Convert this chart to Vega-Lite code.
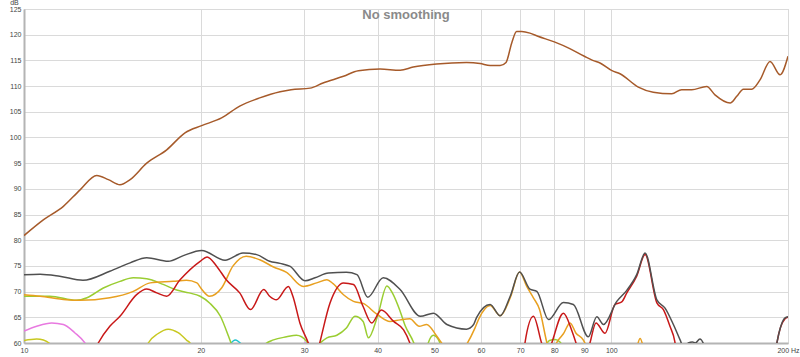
{
  "$schema": "https://vega.github.io/schema/vega-lite/v6.json",
  "width": 764,
  "height": 334,
  "autosize": {"type": "none"},
  "padding": {"left": 24, "top": 9, "right": 12, "bottom": 14},
  "background": "white",
  "config": {
    "font": "Liberation Sans",
    "view": {"stroke": "#c8c8c8", "strokeWidth": 1},
    "axis": {"gridColor": "#dadada", "gridWidth": 1, "domainColor": "#b4b4b4", "domainWidth": 2, "ticks": false, "labelFontSize": 7, "labelColor": "#444", "labelFont": "Liberation Sans"}
  },
  "title": {"text": "No smoothing", "anchor": "middle", "offset": -24, "fontSize": 13, "fontWeight": "bold", "color": "#8a8a8a", "font": "Liberation Sans"},
  "data": {"values": [
    {"s":"pink","g":"p1","f":10,"d":62.3},{"s":"pink","g":"p1","f":10.51,"d":63.25},{"s":"pink","g":"p1","f":11.15,"d":63.9},{"s":"pink","g":"p1","f":11.67,"d":63.6},{"s":"pink","g":"p1","f":12.2,"d":62.0},{"s":"pink","g":"p1","f":12.7,"d":60},{"s":"pink","g":"p1","f":13.0,"d":58},
    {"s":"yellow","g":"y1","f":10,"d":60.5},{"s":"yellow","g":"y1","f":10.51,"d":60.8},{"s":"yellow","g":"y1","f":10.79,"d":60.6},{"s":"yellow","g":"y1","f":11.15,"d":59.5},{"s":"yellow","g":"y1","f":11.4,"d":58},
    {"s":"yellow","g":"y2","f":16.0,"d":58},{"s":"yellow","g":"y2","f":16.28,"d":60},{"s":"yellow","g":"y2","f":16.9,"d":61.8},{"s":"yellow","g":"y2","f":17.6,"d":62.7},{"s":"yellow","g":"y2","f":18.3,"d":62.0},{"s":"yellow","g":"y2","f":18.9,"d":60.6},{"s":"yellow","g":"y2","f":19.3,"d":59.5},{"s":"yellow","g":"y2","f":19.5,"d":58},
    {"s":"cyan","g":"c1","f":22.3,"d":59.4},{"s":"cyan","g":"c1","f":22.9,"d":60.6},{"s":"cyan","g":"c1","f":23.6,"d":59.4},
    {"s":"lavender","g":"l1","f":29.8,"d":59.6},{"s":"lavender","g":"l1","f":30.3,"d":60.2},{"s":"lavender","g":"l1","f":30.8,"d":59.6},
    {"s":"green","g":"g1","f":10,"d":69.1},{"s":"green","g":"g1","f":11.07,"d":69.1},{"s":"green","g":"g1","f":12.29,"d":68.3},{"s":"green","g":"g1","f":12.8,"d":68.8},{"s":"green","g":"g1","f":13.65,"d":70.7},{"s":"green","g":"g1","f":14.57,"d":72.0},{"s":"green","g":"g1","f":15.35,"d":72.7},{"s":"green","g":"g1","f":16.18,"d":72.5},{"s":"green","g":"g1","f":17.26,"d":71.4},{"s":"green","g":"g1","f":18.2,"d":70.3},{"s":"green","g":"g1","f":19.1,"d":69.75},{"s":"green","g":"g1","f":19.95,"d":69.1},{"s":"green","g":"g1","f":20.7,"d":67.8},{"s":"green","g":"g1","f":21.6,"d":65.2},{"s":"green","g":"g1","f":22.3,"d":61.3},{"s":"green","g":"g1","f":22.6,"d":59.5},{"s":"green","g":"g1","f":23.0,"d":57},
    {"s":"green","g":"g2","f":25.0,"d":57},{"s":"green","g":"g2","f":25.6,"d":59.5},{"s":"green","g":"g2","f":26.6,"d":60.6},{"s":"green","g":"g2","f":28.0,"d":61.2},{"s":"green","g":"g2","f":29.1,"d":61.5},{"s":"green","g":"g2","f":30.3,"d":60.3},{"s":"green","g":"g2","f":31.0,"d":58.5},{"s":"green","g":"g2","f":31.6,"d":59.5},{"s":"green","g":"g2","f":32.8,"d":61.0},{"s":"green","g":"g2","f":34.1,"d":61.5},{"s":"green","g":"g2","f":35.4,"d":62.9},{"s":"green","g":"g2","f":36.6,"d":65.2},{"s":"green","g":"g2","f":37.8,"d":64.2},{"s":"green","g":"g2","f":38.6,"d":61.0},{"s":"green","g":"g2","f":40.0,"d":65.2},{"s":"green","g":"g2","f":41.5,"d":71.1},{"s":"green","g":"g2","f":42.5,"d":69.5},{"s":"green","g":"g2","f":43.7,"d":66.2},{"s":"green","g":"g2","f":44.6,"d":63.3},{"s":"green","g":"g2","f":46.0,"d":60.3},{"s":"green","g":"g2","f":46.8,"d":58},
    {"s":"green","g":"g3","f":48.3,"d":58},{"s":"green","g":"g3","f":48.8,"d":60},{"s":"green","g":"g3","f":49.8,"d":61.5},{"s":"green","g":"g3","f":51.1,"d":60},{"s":"green","g":"g3","f":51.6,"d":58},
    {"s":"green","g":"g4","f":77.2,"d":59.3},{"s":"green","g":"g4","f":78.5,"d":60.5},{"s":"green","g":"g4","f":80.2,"d":60.7},{"s":"green","g":"g4","f":81.8,"d":60.2},{"s":"green","g":"g4","f":82.8,"d":59.3},
    {"s":"orange","g":"o1","f":10,"d":69.4},{"s":"orange","g":"o1","f":10.65,"d":69.1},{"s":"orange","g":"o1","f":11.8,"d":68.4},{"s":"orange","g":"o1","f":12.46,"d":68.3},{"s":"orange","g":"o1","f":14.0,"d":68.8},{"s":"orange","g":"o1","f":15.35,"d":70.05},{"s":"orange","g":"o1","f":16.4,"d":71.7},{"s":"orange","g":"o1","f":17.96,"d":72.0},{"s":"orange","g":"o1","f":18.9,"d":72.2},{"s":"orange","g":"o1","f":19.7,"d":71.7},{"s":"orange","g":"o1","f":20.0,"d":70.7},{"s":"orange","g":"o1","f":20.7,"d":69.1},{"s":"orange","g":"o1","f":21.7,"d":70.7},{"s":"orange","g":"o1","f":22.7,"d":75.0},{"s":"orange","g":"o1","f":23.9,"d":76.9},{"s":"orange","g":"o1","f":25.2,"d":76.2},{"s":"orange","g":"o1","f":26.6,"d":74.8},{"s":"orange","g":"o1","f":28.0,"d":73.75},{"s":"orange","g":"o1","f":29.9,"d":71.0},{"s":"orange","g":"o1","f":31.5,"d":71.7},{"s":"orange","g":"o1","f":32.8,"d":72.3},{"s":"orange","g":"o1","f":33.6,"d":71.55},{"s":"orange","g":"o1","f":35.0,"d":69.4},{"s":"orange","g":"o1","f":36.4,"d":68.1},{"s":"orange","g":"o1","f":37.8,"d":67.7},{"s":"orange","g":"o1","f":40.0,"d":65.5},{"s":"orange","g":"o1","f":42.0,"d":64.2},{"s":"orange","g":"o1","f":43.7,"d":64.5},{"s":"orange","g":"o1","f":45.4,"d":64.7},{"s":"orange","g":"o1","f":47.1,"d":63.25},{"s":"orange","g":"o1","f":48.5,"d":63.6},{"s":"orange","g":"o1","f":50.4,"d":61.4},{"s":"orange","g":"o1","f":51.8,"d":59.5},{"s":"orange","g":"o1","f":54.0,"d":57},{"s":"orange","g":"o1","f":56.7,"d":59.7},{"s":"orange","g":"o1","f":58.6,"d":62.9},{"s":"orange","g":"o1","f":59.5,"d":64.7},{"s":"orange","g":"o1","f":62.2,"d":67.3},{"s":"orange","g":"o1","f":64.7,"d":65.3},{"s":"orange","g":"o1","f":67.3,"d":68.8},{"s":"orange","g":"o1","f":69.8,"d":73.8},{"s":"orange","g":"o1","f":71.8,"d":71.0},{"s":"orange","g":"o1","f":73.7,"d":68.8},{"s":"orange","g":"o1","f":75.5,"d":66.5},{"s":"orange","g":"o1","f":77.6,"d":60.3},{"s":"orange","g":"o1","f":78.5,"d":58},{"s":"orange","g":"o1","f":80.0,"d":59.3},{"s":"orange","g":"o1","f":81.3,"d":60.6},{"s":"orange","g":"o1","f":82.9,"d":61.8},{"s":"orange","g":"o1","f":85.1,"d":63.9},{"s":"orange","g":"o1","f":87.1,"d":61.9},{"s":"orange","g":"o1","f":89.6,"d":60.6},{"s":"orange","g":"o1","f":90.6,"d":59.4},{"s":"orange","g":"o1","f":91.5,"d":57},
    {"s":"orange","g":"o2","f":110.8,"d":59.5},{"s":"orange","g":"o2","f":112.0,"d":60.9},{"s":"orange","g":"o2","f":113.2,"d":59.5},
    {"s":"red","g":"r1","f":13.0,"d":57},{"s":"red","g":"r1","f":13.38,"d":60},{"s":"red","g":"r1","f":14.0,"d":63.25},{"s":"red","g":"r1","f":14.57,"d":65.2},{"s":"red","g":"r1","f":15.55,"d":69.4},{"s":"red","g":"r1","f":16.18,"d":70.5},{"s":"red","g":"r1","f":16.83,"d":69.75},{"s":"red","g":"r1","f":17.5,"d":69.1},{"s":"red","g":"r1","f":18.44,"d":72.3},{"s":"red","g":"r1","f":19.95,"d":75.9},{"s":"red","g":"r1","f":20.5,"d":76.75},{"s":"red","g":"r1","f":21.3,"d":74.9},{"s":"red","g":"r1","f":22.1,"d":72.3},{"s":"red","g":"r1","f":23.3,"d":69.75},{"s":"red","g":"r1","f":24.3,"d":66.5},{"s":"red","g":"r1","f":25.6,"d":70.4},{"s":"red","g":"r1","f":26.2,"d":69.1},{"s":"red","g":"r1","f":26.9,"d":68.4},{"s":"red","g":"r1","f":28.2,"d":71.0},{"s":"red","g":"r1","f":28.7,"d":69.1},{"s":"red","g":"r1","f":29.5,"d":63.9},{"s":"red","g":"r1","f":30.7,"d":59.0},{"s":"red","g":"r1","f":31.2,"d":56},{"s":"red","g":"r1","f":31.8,"d":59.5},{"s":"red","g":"r1","f":33.2,"d":67.8},{"s":"red","g":"r1","f":35.0,"d":71.7},{"s":"red","g":"r1","f":36.4,"d":71.4},{"s":"red","g":"r1","f":37.8,"d":67.1},{"s":"red","g":"r1","f":39.1,"d":63.9},{"s":"red","g":"r1","f":40.6,"d":66.4},{"s":"red","g":"r1","f":42.6,"d":64.2},{"s":"red","g":"r1","f":44.3,"d":62.55},{"s":"red","g":"r1","f":45.4,"d":60},{"s":"red","g":"r1","f":46.2,"d":57},
    {"s":"red","g":"r2","f":70.8,"d":57},{"s":"red","g":"r2","f":71.3,"d":60},{"s":"red","g":"r2","f":73.7,"d":65.2},{"s":"red","g":"r2","f":76.1,"d":60},{"s":"red","g":"r2","f":77.6,"d":57},{"s":"red","g":"r2","f":79.2,"d":60},{"s":"red","g":"r2","f":82.9,"d":65.8},{"s":"red","g":"r2","f":85.6,"d":62.55},{"s":"red","g":"r2","f":87.1,"d":60},{"s":"red","g":"r2","f":89.5,"d":55},{"s":"red","g":"r2","f":92.0,"d":60},{"s":"red","g":"r2","f":94.2,"d":63.9},{"s":"red","g":"r2","f":97.6,"d":61.9},{"s":"red","g":"r2","f":101.5,"d":67.5},{"s":"red","g":"r2","f":104.2,"d":68.0},{"s":"red","g":"r2","f":106.3,"d":69.75},{"s":"red","g":"r2","f":110.5,"d":73.0},{"s":"red","g":"r2","f":114.2,"d":77.2},{"s":"red","g":"r2","f":119.6,"d":67.8},{"s":"red","g":"r2","f":122.7,"d":66.5},{"s":"red","g":"r2","f":125.9,"d":63.25},{"s":"red","g":"r2","f":128.3,"d":60.3},{"s":"red","g":"r2","f":129.5,"d":57},
    {"s":"red","g":"r3","f":190.0,"d":57},{"s":"red","g":"r3","f":191.5,"d":60},{"s":"red","g":"r3","f":197.7,"d":64.7},{"s":"red","g":"r3","f":200,"d":65.0},
    {"s":"gray","g":"k1","f":10,"d":73.3},{"s":"gray","g":"k1","f":10.65,"d":73.4},{"s":"gray","g":"k1","f":11.5,"d":73.0},{"s":"gray","g":"k1","f":12.6,"d":72.2},{"s":"gray","g":"k1","f":14.0,"d":73.95},{"s":"gray","g":"k1","f":15.16,"d":75.6},{"s":"gray","g":"k1","f":16.18,"d":76.6},{"s":"gray","g":"k1","f":17.6,"d":75.9},{"s":"gray","g":"k1","f":18.68,"d":77.0},{"s":"gray","g":"k1","f":20.07,"d":78.0},{"s":"gray","g":"k1","f":22.0,"d":76.1},{"s":"gray","g":"k1","f":23.6,"d":77.5},{"s":"gray","g":"k1","f":24.9,"d":77.2},{"s":"gray","g":"k1","f":26.2,"d":75.9},{"s":"gray","g":"k1","f":27.3,"d":75.5},{"s":"gray","g":"k1","f":28.4,"d":74.9},{"s":"gray","g":"k1","f":30.1,"d":72.1},{"s":"gray","g":"k1","f":31.3,"d":72.7},{"s":"gray","g":"k1","f":33.0,"d":73.6},{"s":"gray","g":"k1","f":35.4,"d":73.75},{"s":"gray","g":"k1","f":36.9,"d":73.3},{"s":"gray","g":"k1","f":38.5,"d":68.9},{"s":"gray","g":"k1","f":40.9,"d":72.7},{"s":"gray","g":"k1","f":43.7,"d":70.4},{"s":"gray","g":"k1","f":47.3,"d":65.2},{"s":"gray","g":"k1","f":49.8,"d":65.8},{"s":"gray","g":"k1","f":52.5,"d":63.6},{"s":"gray","g":"k1","f":56.7,"d":62.7},{"s":"gray","g":"k1","f":58.3,"d":63.6},{"s":"gray","g":"k1","f":59.0,"d":65.0},{"s":"gray","g":"k1","f":62.2,"d":67.5},{"s":"gray","g":"k1","f":64.7,"d":65.3},{"s":"gray","g":"k1","f":67.3,"d":69.1},{"s":"gray","g":"k1","f":69.8,"d":73.8},{"s":"gray","g":"k1","f":72.7,"d":70.5},{"s":"gray","g":"k1","f":74.7,"d":70.05},{"s":"gray","g":"k1","f":78.2,"d":64.55},{"s":"gray","g":"k1","f":82.9,"d":67.9},{"s":"gray","g":"k1","f":86.2,"d":67.5},{"s":"gray","g":"k1","f":91.4,"d":61.2},{"s":"gray","g":"k1","f":94.5,"d":65.1},{"s":"gray","g":"k1","f":97.0,"d":63.6},{"s":"gray","g":"k1","f":102.2,"d":68.1},{"s":"gray","g":"k1","f":106.3,"d":70.25},{"s":"gray","g":"k1","f":110.5,"d":73.3},{"s":"gray","g":"k1","f":114.2,"d":77.5},{"s":"gray","g":"k1","f":119.6,"d":68.4},{"s":"gray","g":"k1","f":123.5,"d":66.8},{"s":"gray","g":"k1","f":127.6,"d":63.6},{"s":"gray","g":"k1","f":131.0,"d":60.6},{"s":"gray","g":"k1","f":133.0,"d":59.0},{"s":"gray","g":"k1","f":135.3,"d":60.0},{"s":"gray","g":"k1","f":137.5,"d":60.2},{"s":"gray","g":"k1","f":139.0,"d":60.0},{"s":"gray","g":"k1","f":141.6,"d":60.8},{"s":"gray","g":"k1","f":144.0,"d":59.5},{"s":"gray","g":"k1","f":146.0,"d":57},
    {"s":"gray","g":"k2","f":189.5,"d":57},{"s":"gray","g":"k2","f":191.3,"d":59.8},{"s":"gray","g":"k2","f":197.7,"d":64.9},{"s":"gray","g":"k2","f":200,"d":65.1},
    {"s":"brown","g":"b1","f":10,"d":80.9},{"s":"brown","g":"b1","f":10.8,"d":84.0},{"s":"brown","g":"b1","f":11.67,"d":86.6},{"s":"brown","g":"b1","f":12.46,"d":89.8},{"s":"brown","g":"b1","f":13.3,"d":92.6},{"s":"brown","g":"b1","f":13.92,"d":91.8},{"s":"brown","g":"b1","f":14.57,"d":90.8},{"s":"brown","g":"b1","f":15.16,"d":91.8},{"s":"brown","g":"b1","f":16.18,"d":95.0},{"s":"brown","g":"b1","f":17.5,"d":97.6},{"s":"brown","g":"b1","f":18.8,"d":100.9},{"s":"brown","g":"b1","f":20.07,"d":102.3},{"s":"brown","g":"b1","f":21.7,"d":103.8},{"s":"brown","g":"b1","f":23.3,"d":106.1},{"s":"brown","g":"b1","f":25.2,"d":107.7},{"s":"brown","g":"b1","f":27.3,"d":108.9},{"s":"brown","g":"b1","f":28.5,"d":109.3},{"s":"brown","g":"b1","f":30.7,"d":109.6},{"s":"brown","g":"b1","f":32.3,"d":110.6},{"s":"brown","g":"b1","f":35.0,"d":111.9},{"s":"brown","g":"b1","f":37.1,"d":113.0},{"s":"brown","g":"b1","f":40.4,"d":113.3},{"s":"brown","g":"b1","f":43.7,"d":113.1},{"s":"brown","g":"b1","f":46.0,"d":113.7},{"s":"brown","g":"b1","f":50.4,"d":114.3},{"s":"brown","g":"b1","f":56.7,"d":114.6},{"s":"brown","g":"b1","f":59.8,"d":114.4},{"s":"brown","g":"b1","f":62.2,"d":114.0},{"s":"brown","g":"b1","f":64.7,"d":114.0},{"s":"brown","g":"b1","f":66.2,"d":114.6},{"s":"brown","g":"b1","f":67.7,"d":118.4},{"s":"brown","g":"b1","f":69.0,"d":120.6},{"s":"brown","g":"b1","f":70.4,"d":120.6},{"s":"brown","g":"b1","f":72.7,"d":120.3},{"s":"brown","g":"b1","f":75.0,"d":119.7},{"s":"brown","g":"b1","f":80.0,"d":118.6},{"s":"brown","g":"b1","f":85.0,"d":117.3},{"s":"brown","g":"b1","f":90.0,"d":115.8},{"s":"brown","g":"b1","f":93.0,"d":115.0},{"s":"brown","g":"b1","f":95.7,"d":114.5},{"s":"brown","g":"b1","f":100.3,"d":113.0},{"s":"brown","g":"b1","f":103.5,"d":112.4},{"s":"brown","g":"b1","f":111.2,"d":109.8},{"s":"brown","g":"b1","f":117.9,"d":108.8},{"s":"brown","g":"b1","f":126.8,"d":108.5},{"s":"brown","g":"b1","f":131.8,"d":109.3},{"s":"brown","g":"b1","f":137.1,"d":109.3},{"s":"brown","g":"b1","f":145.4,"d":109.9},{"s":"brown","g":"b1","f":150.2,"d":108.3},{"s":"brown","g":"b1","f":159.4,"d":106.7},{"s":"brown","g":"b1","f":163.6,"d":108.0},{"s":"brown","g":"b1","f":167.9,"d":109.4},{"s":"brown","g":"b1","f":173.5,"d":109.4},{"s":"brown","g":"b1","f":179.2,"d":111.2},{"s":"brown","g":"b1","f":186.4,"d":114.8},{"s":"brown","g":"b1","f":193.9,"d":112.2},{"s":"brown","g":"b1","f":200,"d":115.8}
  ]},
  "mark": {"type": "line", "interpolate": "monotone", "strokeWidth": 1.5, "clip": true},
  "encoding": {
    "x": {"field": "f", "type": "quantitative",
      "scale": {"type": "log", "domain": [10, 200], "nice": false},
      "axis": {"title": null, "values": [10,20,30,40,50,60,70,80,90,100,200], "format": "d", "labelExpr": "datum.value == 200 ? '200 Hz' : datum.label", "labelPadding": 3, "labelFlush": false}},
    "y": {"field": "d", "type": "quantitative",
      "scale": {"domain": [60, 125], "nice": false, "zero": false},
      "axis": {"title": "dB", "titleAngle": 0, "titleFontSize": 7, "titleFontWeight": "normal", "titleColor": "#444", "titleX": -10, "titleY": -4, "titleAlign": "center", "titleBaseline": "bottom", "values": [60,65,70,75,80,85,90,95,100,105,110,115,120,125], "labelPadding": 3}},
    "color": {"field": "s", "type": "nominal", "legend": null,
      "scale": {"domain": ["pink","yellow","cyan","lavender","green","orange","red","gray","brown"],
                "range": ["#e879e0","#c8c820","#20c4d0","#c8a0e0","#9acd32","#e8a020","#c81818","#505050","#a65a2a"]}},
    "detail": {"field": "g", "type": "nominal"},
    "order": {"field": "f", "type": "quantitative"}
  }
}
